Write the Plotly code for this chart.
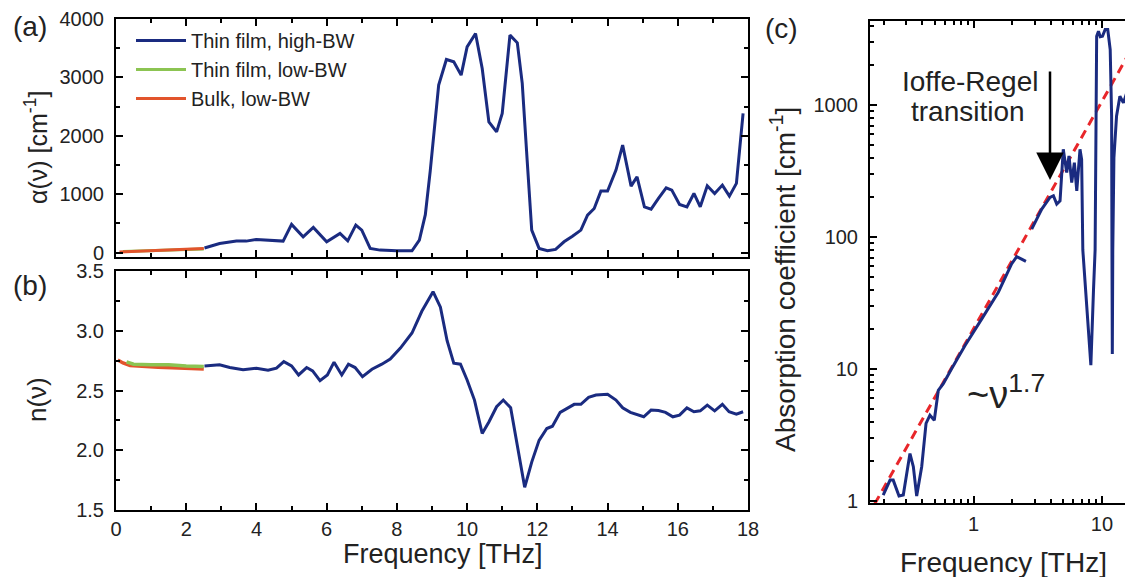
import plotly.graph_objects as go

# ---------------- data ----------------
# Panel (a): absorption coefficient alpha(nu) [cm^-1]
a_high_freq = [2.52, 2.95, 3.43, 3.71, 4.0, 4.29, 4.76, 5.0, 5.33, 5.62, 6.0, 6.38, 6.6, 6.83, 7.0,
               7.24, 7.52, 8.0, 8.43, 8.64, 8.81, 8.95, 9.19, 9.41, 9.62, 9.83, 10.0, 10.24, 10.43,
               10.62, 10.84, 11.0, 11.22, 11.43, 11.57, 11.71, 11.84, 12.05, 12.29, 12.52, 12.76,
               13.0, 13.24, 13.43, 13.62, 13.81, 14.0, 14.24, 14.43, 14.67, 14.84, 15.05, 15.24,
               15.45, 15.67, 15.83, 16.05, 16.26, 16.46, 16.64, 16.84, 17.05, 17.27, 17.47, 17.67, 17.86]
a_high_alpha = [80, 157, 197, 197, 226, 214, 197, 483, 271, 431, 185, 329, 202, 471, 385,
                72, 43, 31, 31, 214, 650, 1400, 2868, 3307, 3267, 3039, 3523, 3753, 3153,
                2239, 2068, 2383, 3724, 3592, 2897, 1584, 385, 72, 31, 55, 185,
                282, 385, 642, 756, 1053, 1053, 1412, 1840, 1138, 1298, 784, 745,
                928, 1110, 1070, 825, 784, 1013, 784, 1144, 1013, 1156, 967, 1185, 2383]
a_film_low_freq = [0.2, 0.5, 1.0, 1.5, 2.0, 2.5]
a_film_low_alpha = [20, 25, 35, 45, 55, 60]
a_bulk_low_freq = [0.1, 0.5, 1.0, 1.5, 2.0, 2.5]
a_bulk_low_alpha = [10, 20, 30, 45, 65, 70]

# Panel (b): refractive index n(nu)
b_high_freq = [2.52, 2.95, 3.24, 3.62, 4.0, 4.33, 4.57, 4.78, 5.0, 5.2, 5.43, 5.6, 5.81, 6.02, 6.21,
               6.43, 6.62, 6.81, 7.02, 7.29, 7.57, 7.81, 8.1, 8.43, 8.71, 9.03, 9.24, 9.43, 9.62,
               9.81, 10.0, 10.21, 10.43, 10.62, 10.84, 11.03, 11.24, 11.43, 11.64, 11.84, 12.05,
               12.27, 12.43, 12.65, 12.86, 13.05, 13.24, 13.46, 13.67, 14.0, 14.24, 14.43, 14.65,
               15.03, 15.24, 15.45, 15.65, 15.86, 16.05, 16.26, 16.46, 16.64, 16.84, 17.05, 17.27,
               17.46, 17.67, 17.86]
b_high_n = [2.706, 2.715, 2.692, 2.673, 2.687, 2.670, 2.687, 2.742, 2.706, 2.630, 2.692, 2.664,
            2.583, 2.630, 2.737, 2.630, 2.720, 2.692, 2.616, 2.678, 2.720, 2.763, 2.855, 2.981,
            3.163, 3.327, 3.197, 2.917, 2.729, 2.720, 2.588, 2.420, 2.140, 2.237, 2.364, 2.420,
            2.355, 2.027, 1.690, 1.901, 2.083, 2.182, 2.201, 2.317, 2.350, 2.384, 2.384, 2.443,
            2.462, 2.468, 2.420, 2.355, 2.317, 2.280, 2.336, 2.333, 2.317, 2.280, 2.294, 2.355,
            2.322, 2.330, 2.378, 2.330, 2.384, 2.322, 2.302, 2.322]
b_film_low_freq = [0.3, 0.5, 1.0, 1.5, 2.0, 2.5]
b_film_low_n = [2.74, 2.72, 2.715, 2.715, 2.705, 2.70]
b_bulk_low_freq = [0.05, 0.2, 0.4, 0.8, 1.2, 1.6, 2.0, 2.5]
b_bulk_low_n = [2.755, 2.73, 2.71, 2.70, 2.695, 2.69, 2.685, 2.68]

# Panel (c): log-log absorption coefficient
c_low_freq = [0.198, 0.224, 0.237, 0.263, 0.284, 0.32, 0.34, 0.361, 0.395, 0.427, 0.458, 0.495,
              0.532, 0.582, 0.677, 0.859, 1.16, 1.56, 1.98, 2.17, 2.37, 2.56]
c_low_alpha = [1.11, 1.44, 1.44, 1.09, 1.11, 2.29, 1.82, 1.09, 1.82, 3.87, 4.47, 4.09,
               6.9, 7.75, 10.1, 15.1, 24, 38.2, 62.6, 71, 68, 65.5]
c_high_freq = [2.84, 3.4, 3.94, 4.19, 4.45, 4.72, 5.0, 5.32, 5.54, 5.82, 6.1, 6.37, 6.75, 6.95,
               7.1, 7.6, 8.2, 8.6, 8.85, 9.1, 9.4, 9.7, 10.1, 10.6, 11.1, 11.6, 11.9, 11.97, 12.05,
               12.15, 12.4, 13.0, 13.8, 14.7, 15.6, 16.5, 17.3, 18.0]
c_high_alpha = [115, 163, 200, 206, 178, 188, 463, 308, 412, 259, 367, 224, 463, 389,
                80, 30, 10.7, 40, 80, 3330, 3630, 3300, 3330, 3740, 3740, 2640, 828, 80, 13,
                80, 400, 828, 1170, 1040, 1240, 828, 1100, 2400]
fit_freq = [0.17, 17.5]
fit_alpha = [0.95, 2800]

# ---------------- style ----------------
FONT = "Liberation Sans, Arial, sans-serif"
BLUE = "#1a2b80"
GREEN = "#8cc452"
RED = "#e2542c"
OFF = 8                      # default page margin of the html body
W, H = 1133 - OFF, 577 - OFF


def px_x(p):
    return (p - OFF) / W


def px_y(p):
    return (H - (p - OFF)) / H


fig = go.Figure()

# panel (a)
fig.add_trace(go.Scatter(x=a_high_freq, y=a_high_alpha, mode="lines", name="Thin film, high-BW",
                         line=dict(color=BLUE, width=3), xaxis="x", yaxis="y"))
fig.add_trace(go.Scatter(x=a_film_low_freq, y=a_film_low_alpha, mode="lines", name="Thin film, low-BW",
                         line=dict(color=GREEN, width=3), xaxis="x", yaxis="y"))
fig.add_trace(go.Scatter(x=a_bulk_low_freq, y=a_bulk_low_alpha, mode="lines", name="Bulk, low-BW",
                         line=dict(color=RED, width=3), xaxis="x", yaxis="y"))
# panel (b)
fig.add_trace(go.Scatter(x=b_high_freq, y=b_high_n, mode="lines", showlegend=False,
                         line=dict(color=BLUE, width=3), xaxis="x2", yaxis="y2"))
fig.add_trace(go.Scatter(x=b_bulk_low_freq, y=b_bulk_low_n, mode="lines", showlegend=False,
                         line=dict(color=RED, width=3.5), xaxis="x2", yaxis="y2"))
fig.add_trace(go.Scatter(x=b_film_low_freq, y=b_film_low_n, mode="lines", showlegend=False,
                         line=dict(color=GREEN, width=3.5), xaxis="x2", yaxis="y2"))
# panel (c)
fig.add_trace(go.Scatter(x=fit_freq, y=fit_alpha, mode="lines", showlegend=False,
                         line=dict(color="#e8262a", width=3, dash="9px,6px"), xaxis="x3", yaxis="y3"))
fig.add_trace(go.Scatter(x=c_low_freq, y=c_low_alpha, mode="lines", showlegend=False,
                         line=dict(color=BLUE, width=3), xaxis="x3", yaxis="y3"))
fig.add_trace(go.Scatter(x=c_high_freq, y=c_high_alpha, mode="lines", showlegend=False,
                         line=dict(color=BLUE, width=3), xaxis="x3", yaxis="y3"))

tickfont = dict(family=FONT, size=20, color="#222222")
common = dict(showline=True, linecolor="black", linewidth=2, ticks="inside", ticklen=7,
              tickwidth=2, tickcolor="black", showgrid=False, zeroline=False, automargin=False,
              mirror="ticks", tickfont=tickfont)
minor_style = dict(ticks="inside", ticklen=4, tickwidth=1.5, tickcolor="black", showgrid=False)

dom_ab_x = [px_x(116), px_x(748)]
fig.update_layout(
    width=W, height=H,
    margin=dict(l=0, r=0, t=0, b=0, autoexpand=False),
    paper_bgcolor="white", plot_bgcolor="white",
    font=dict(family=FONT, color="#222222"),
    xaxis=dict(domain=dom_ab_x, range=[0, 18], dtick=2, showticklabels=False, anchor="y",
               minor=dict(dtick=1, **minor_style), **common),
    yaxis=dict(domain=[px_y(257), px_y(19)], range=[-75, 4000], dtick=1000, anchor="x",
               ticklabelstandoff=6, minor=dict(dtick=500, **minor_style), **common),
    xaxis2=dict(domain=dom_ab_x, range=[0, 18], dtick=2, anchor="y2", ticklabelstandoff=0,
                minor=dict(dtick=1, **minor_style), **common),
    yaxis2=dict(domain=[px_y(510), px_y(271)], range=[1.5, 3.5], dtick=0.5, tickformat=".1f",
                anchor="x2", ticklabelstandoff=6, minor=dict(dtick=0.25, **minor_style), **common),
    xaxis3=dict(domain=[px_x(870), 1.0], type="log", range=[-0.806, 1.242], dtick=1, anchor="y3",
                ticklabelstandoff=2, minor=dict(dtick="D1", **minor_style), **common),
    yaxis3=dict(domain=[px_y(503), px_y(20.7)], type="log", range=[-0.015, 3.64], dtick=1,
                tickformat="d", anchor="x3", ticklabelstandoff=6,
                minor=dict(dtick="D1", **minor_style),
                **{**common, "mirror": False}),
    legend=dict(x=px_x(131), y=px_y(21), xanchor="left", yanchor="top",
                bgcolor="rgba(0,0,0,0)", font=dict(family=FONT, size=20, color="#222222"),
                tracegroupgap=0, itemwidth=50),
)


def text(x, y, s, size, angle=0, xanchor="center"):
    fig.add_annotation(x=px_x(x), y=px_y(y), xref="paper", yref="paper", text=s, showarrow=False,
                       textangle=angle, xanchor=xanchor, yanchor="middle",
                       font=dict(family=FONT, size=size, color="#222222"))


text(30, 27, "(a)", 28)
text(30, 285, "(b)", 28)
text(782, 29, "(c)", 28)
text(36, 148, "α(ν) [cm<sup>-1</sup>]", 25, angle=-90)
text(37, 400, "n(ν)", 26, angle=-90)
text(443, 554, "Frequency [THz]", 27)
text(1003, 562, "Frequency [THz]", 28)
text(783, 280, "Absorption coefficient [cm<sup>-1</sup>]", 28, angle=-90)
text(970, 82, "Ioffe-Regel", 28)
text(968, 111, "transition", 28)
text(1006, 392, "~ν<sup>1.7</sup>", 38)

# arrow for Ioffe-Regel transition
fig.add_annotation(x=px_x(1050), y=px_y(180), xref="paper", yref="paper", text="",
                   showarrow=True, ax=0, ay=-110, arrowhead=2, arrowsize=2.2, arrowwidth=2.5,
                   arrowcolor="black")

fig.write_html("out.html")
